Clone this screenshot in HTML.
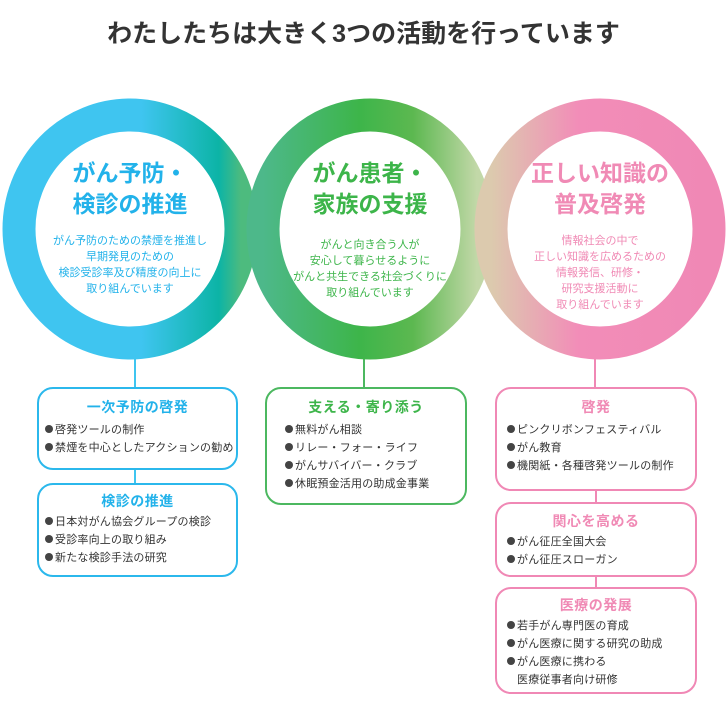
<!DOCTYPE html>
<html><head><meta charset="utf-8"><style>
body{margin:0;width:727px;height:710px;background:#fff;position:relative;overflow:hidden;font-family:"Liberation Sans","Noto Sans CJK JP",sans-serif;}
.t{position:absolute;text-align:center;}
.box{position:absolute;border:2.5px solid;border-radius:16px;background:#fff;box-sizing:border-box;}
.box h3{margin:0;text-align:center;font-size:14px;font-weight:bold;letter-spacing:0.5px;}
.box ul{list-style:none;margin:4px 0 0 0;padding:0 0 0 6px;font-size:11px;color:#333;line-height:18px;letter-spacing:0.2px;white-space:nowrap;}
.box li:before{content:"";display:inline-block;width:8px;height:8px;border-radius:50%;background:#444;margin-right:2px;vertical-align:0px;}
.box li.c:before{display:none}
</style></head><body>
<div class="t" style="left:0;top:14px;width:727px;font-size:25px;font-weight:bold;color:#333;">わたしたちは大きく3つの活動を行っています</div>
<svg width="727" height="710" style="position:absolute;left:0;top:0">
<defs>
<linearGradient id="g1" x1="0" x2="1" y1="0" y2="0"><stop offset="0" stop-color="#3fc5f0"/><stop offset="0.55" stop-color="#3fc5f0"/><stop offset="0.9" stop-color="#0cb4a6"/><stop offset="1" stop-color="#4dbb7e"/></linearGradient>
<linearGradient id="g2" x1="0" x2="1" y1="0" y2="0"><stop offset="0" stop-color="#4db88a"/><stop offset="0.45" stop-color="#3db54a"/><stop offset="0.7" stop-color="#5cb850"/><stop offset="1" stop-color="#c2d8a8"/></linearGradient>
<linearGradient id="g3" x1="0" x2="1" y1="0" y2="0"><stop offset="0" stop-color="#dccaae"/><stop offset="0.4" stop-color="#f28db8"/><stop offset="1" stop-color="#f088b5"/></linearGradient>
</defs>
<line x1="135" y1="355" x2="135" y2="390" stroke="#3fc5f0" stroke-width="2"/>
<line x1="135" y1="468" x2="135" y2="486" stroke="#3fc5f0" stroke-width="2"/>
<line x1="364" y1="355" x2="364" y2="390" stroke="#4cb860" stroke-width="2"/>
<line x1="595" y1="355" x2="595" y2="390" stroke="#f088b5" stroke-width="2"/>
<line x1="596" y1="490" x2="596" y2="505" stroke="#f088b5" stroke-width="2"/>
<line x1="596" y1="575" x2="596" y2="590" stroke="#f088b5" stroke-width="2"/>
<ellipse cx="130" cy="229" rx="111" ry="114" fill="#fff" stroke="url(#g1)" stroke-width="33"/>
<ellipse cx="370" cy="229" rx="107" ry="114" fill="none" stroke="url(#g2)" stroke-width="33"/>
<ellipse cx="600" cy="229" rx="109" ry="114" fill="none" stroke="url(#g3)" stroke-width="33"/>
</svg>
<div class="t" style="left:30px;top:158px;width:200px;font-size:23px;font-weight:bold;color:#22b2ea;line-height:31px;">がん予防・<br>検診の推進</div>
<div class="t" style="left:30px;top:233px;width:200px;font-size:11px;color:#22b2ea;line-height:16px;">がん予防のための禁煙を推進し<br>早期発見のための<br>検診受診率及び精度の向上に<br>取り組んでいます</div>
<div class="t" style="left:265px;top:158px;width:210px;font-size:23px;font-weight:bold;color:#3db54a;line-height:31px;">がん患者・<br>家族の支援</div>
<div class="t" style="left:265px;top:237px;width:210px;font-size:11px;color:#3db54a;line-height:16px;">がんと向き合う人が<br>安心して暮らせるように<br>がんと共生できる社会づくりに<br>取り組んでいます</div>
<div class="t" style="left:495px;top:158px;width:210px;font-size:23px;font-weight:bold;color:#f08ab5;line-height:31px;">正しい知識の<br>普及啓発</div>
<div class="t" style="left:495px;top:233px;width:210px;font-size:11px;color:#f08ab5;line-height:16px;">情報社会の中で<br>正しい知識を広めるための<br>情報発信、研修・<br>研究支援活動に<br>取り組んでいます</div>

<div class="box" style="left:37px;top:387px;width:201px;height:83px;border-color:#2bb8ec;padding-top:8px;"><h3 style="color:#22b2ea">一次予防の啓発</h3><ul><li>啓発ツールの制作</li><li>禁煙を中心としたアクションの勧め</li></ul></div>
<div class="box" style="left:37px;top:483px;width:201px;height:94px;border-color:#2bb8ec;padding-top:6px;"><h3 style="color:#22b2ea">検診の推進</h3><ul style="margin-top:2px"><li>日本対がん協会グループの検診</li><li>受診率向上の取り組み</li><li>新たな検診手法の研究</li></ul></div>
<div class="box" style="left:265px;top:387px;width:202px;height:118px;border-color:#4cb860;padding-top:8px;"><h3 style="color:#3db54a">支える・寄り添う</h3><ul style="padding-left:18px"><li>無料がん相談</li><li>リレー・フォー・ライフ</li><li>がんサバイバー・クラブ</li><li>休眠預金活用の助成金事業</li></ul></div>
<div class="box" style="left:495px;top:387px;width:202px;height:104px;border-color:#f088b5;padding-top:8px;"><h3 style="color:#f08ab5">啓発</h3><ul style="padding-left:10px"><li>ピンクリボンフェスティバル</li><li>がん教育</li><li>機関紙・各種啓発ツールの制作</li></ul></div>
<div class="box" style="left:495px;top:502px;width:202px;height:75px;border-color:#f088b5;padding-top:7px;"><h3 style="color:#f08ab5">関心を高める</h3><ul style="padding-left:10px;margin-top:2px"><li>がん征圧全国大会</li><li>がん征圧スローガン</li></ul></div>
<div class="box" style="left:495px;top:587px;width:202px;height:107px;border-color:#f088b5;padding-top:6px;"><h3 style="color:#f08ab5">医療の発展</h3><ul style="padding-left:10px;margin-top:2px"><li>若手がん専門医の育成</li><li>がん医療に関する研究の助成</li><li>がん医療に携わる</li><li class="c" style="padding-left:10px">医療従事者向け研修</li></ul></div>
</body></html>
